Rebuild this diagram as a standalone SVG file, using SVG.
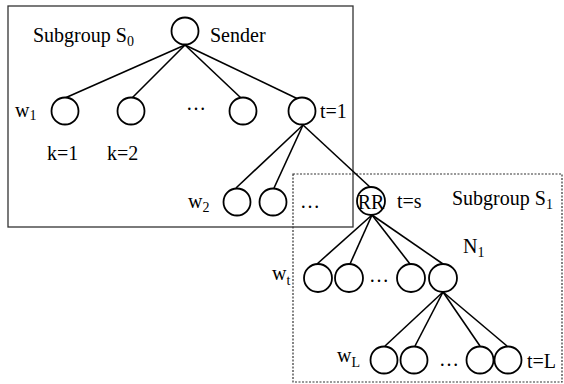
<svg xmlns="http://www.w3.org/2000/svg" width="564" height="384" viewBox="0 0 564 384">
<style>
.n{fill:#fff;stroke:#000;stroke-width:1.8}
.e{stroke:#000;stroke-width:1.6;fill:none}
.t{font-family:"Liberation Serif","Times New Roman",serif;font-size:20px;fill:#000}
.s{font-size:14px}
</style>
<rect width="564" height="384" fill="#fff"/>
<rect id="subgroup0" x="8" y="6" width="345" height="221" fill="none" stroke="#333" stroke-width="1.3"/>
<rect id="subgroup1" x="293" y="174" width="269" height="208" fill="none" stroke="#333" stroke-width="1.2" stroke-dasharray="2,1.5"/>
<g id="connectors" class="e">
<line x1="185" y1="45" x2="65" y2="98"/>
<line x1="185" y1="45" x2="132" y2="98"/>
<line x1="185" y1="45" x2="241" y2="98"/>
<line x1="185" y1="45" x2="298" y2="99"/>
<line x1="303" y1="125" x2="236" y2="188"/>
<line x1="303" y1="125" x2="274" y2="188"/>
<line x1="303" y1="125" x2="371" y2="188"/>
<line x1="372" y1="215" x2="317" y2="264"/>
<line x1="372" y1="215" x2="350" y2="264"/>
<line x1="372" y1="215" x2="410" y2="264"/>
<line x1="372" y1="215" x2="443" y2="264"/>
<line x1="443" y1="292" x2="385" y2="346"/>
<line x1="443" y1="292" x2="415" y2="346"/>
<line x1="443" y1="292" x2="480" y2="346"/>
<line x1="443" y1="292" x2="507" y2="346"/>
</g>
<g id="sender"><circle class="n" cx="185" cy="31" r="13.5"/></g>
<g id="l1a"><circle class="n" cx="65" cy="111" r="13.5"/></g>
<g id="l1b"><circle class="n" cx="131" cy="111" r="13.5"/></g>
<g id="l1c"><circle class="n" cx="243" cy="111" r="13.5"/></g>
<g id="l1d"><circle class="n" cx="302" cy="111" r="13.5"/></g>
<g id="l2a"><circle class="n" cx="237" cy="202" r="13.5"/></g>
<g id="l2b"><circle class="n" cx="273" cy="202" r="13.5"/></g>
<g id="rr"><circle class="n" cx="371" cy="201" r="14"/><text class="t" x="371" y="209" text-anchor="middle">RR</text></g>
<g id="l3a"><circle class="n" cx="318" cy="278" r="14"/></g>
<g id="l3b"><circle class="n" cx="349" cy="278" r="14"/></g>
<g id="l3c"><circle class="n" cx="411" cy="278" r="14"/></g>
<g id="l3d"><circle class="n" cx="443" cy="278" r="14"/></g>
<g id="l4a"><circle class="n" cx="384" cy="360" r="13.5"/></g>
<g id="l4b"><circle class="n" cx="414" cy="360" r="13.5"/></g>
<g id="l4c"><circle class="n" cx="480" cy="360" r="13.5"/></g>
<g id="l4d"><circle class="n" cx="508" cy="360" r="13.5"/></g>
<g id="labels" class="t">
<text x="33" y="42">Subgroup S<tspan class="s" dy="4">0</tspan></text>
<text x="210" y="42">Sender</text>
<text x="15" y="117">w<tspan class="s" dy="3">1</tspan></text>
<text x="186" y="110">…</text>
<text x="320" y="118">t=1</text>
<text x="47" y="160">k=1</text>
<text x="107" y="160">k=2</text>
<text x="188" y="208">w<tspan class="s" dy="4">2</tspan></text>
<text x="300" y="208">…</text>
<text x="397" y="208">t=s</text>
<text x="452" y="205">Subgroup S<tspan class="s" dy="4">1</tspan></text>
<text x="463" y="253">N<tspan class="s" dy="4">1</tspan></text>
<text x="272" y="280">w<tspan class="s" dy="5">t</tspan></text>
<text x="369" y="282">…</text>
<text x="337" y="362">w<tspan class="s" dy="5">L</tspan></text>
<text x="439" y="366">…</text>
<text x="527" y="368">t=L</text>
</g>
</svg>
